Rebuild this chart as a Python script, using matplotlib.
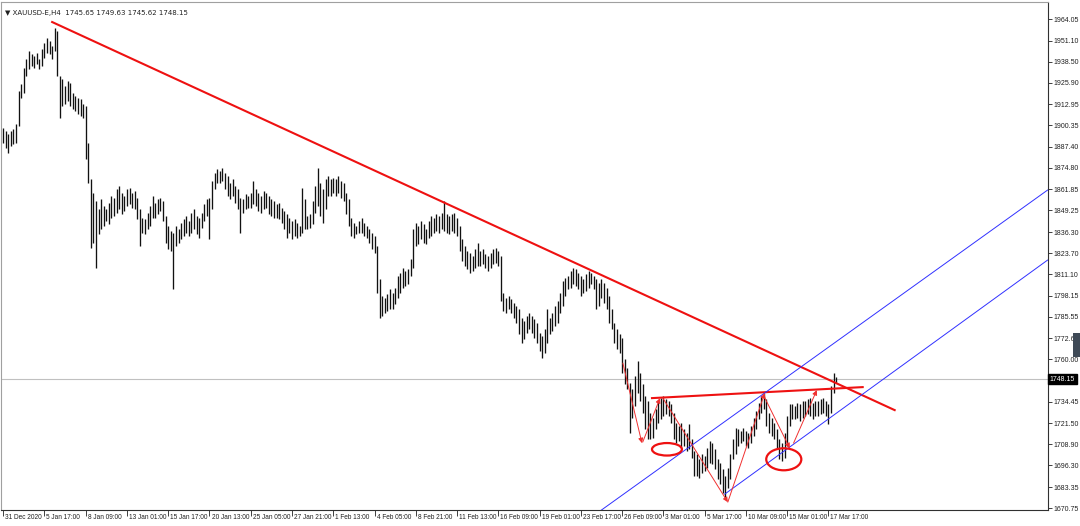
import matplotlib
matplotlib.use("Agg")
import matplotlib.pyplot as plt
from matplotlib.patches import Ellipse, Rectangle

# H4 bars, XAUUSD 31 Dec 2020 .. 18 Mar 2021 (high / low per bar)
highs = [
    1899, 1897, 1895, 1897, 1898, 1901, 1921, 1925, 1935, 1940, 1945, 1943, 1942, 1944, 1940, 1946,
    1950, 1953, 1951, 1948, 1959, 1957, 1930, 1928, 1924, 1927, 1926, 1920, 1918, 1917, 1916, 1913,
    1912, 1890, 1868, 1860, 1855, 1850, 1856, 1852, 1850, 1854, 1858, 1857, 1862, 1864, 1860, 1858,
    1862, 1863, 1860, 1861, 1857, 1850, 1845, 1844, 1848, 1852, 1858, 1854, 1856, 1857, 1855, 1846,
    1840, 1837, 1836, 1840, 1838, 1842, 1844, 1846, 1843, 1848, 1850, 1846, 1845, 1848, 1853, 1856,
    1857, 1867, 1872, 1874, 1873, 1875, 1872, 1870, 1866, 1868, 1864, 1862, 1857, 1856, 1859, 1858,
    1860, 1867, 1862, 1860, 1858, 1861, 1860, 1858, 1856, 1855, 1853, 1854, 1851, 1849, 1847, 1845,
    1843, 1844, 1842, 1840, 1863, 1856, 1846, 1847, 1855, 1864, 1875, 1866, 1862, 1868, 1870, 1868,
    1869, 1868, 1870, 1867, 1866, 1860, 1856, 1845, 1842, 1840, 1843, 1845, 1842, 1840, 1838, 1836,
    1834, 1828, 1808, 1798, 1797, 1799, 1802, 1800, 1803, 1810, 1812, 1815, 1813, 1814, 1820, 1838,
    1842, 1840, 1843, 1841, 1838, 1843, 1846, 1845, 1847, 1846, 1848, 1855, 1847, 1846, 1847, 1848,
    1845, 1840, 1832, 1828, 1825, 1824, 1822, 1826, 1830, 1825, 1826, 1823, 1822, 1824, 1826, 1827,
    1825, 1822, 1800, 1797, 1798, 1796, 1794, 1792, 1790, 1785, 1783, 1786, 1788, 1786, 1784, 1782,
    1776, 1774, 1778, 1790, 1785, 1788, 1792, 1795, 1800, 1807, 1809, 1810, 1813, 1815, 1814, 1812,
    1810, 1808, 1811, 1813, 1812, 1810, 1808, 1806, 1808, 1806, 1803, 1798, 1790, 1782, 1778, 1775,
    1773, 1760, 1755, 1746, 1742, 1750, 1759, 1752, 1745, 1738, 1735, 1728, 1725, 1730, 1735, 1737,
    1738, 1736, 1735, 1733, 1728, 1722, 1720, 1722, 1718, 1716, 1721, 1712, 1705, 1703, 1700, 1703,
    1702, 1707, 1711, 1710, 1706, 1700, 1698, 1694, 1690, 1695, 1703, 1712, 1719, 1718, 1717, 1719,
    1717, 1716, 1720, 1725, 1729, 1734, 1738, 1740, 1736, 1728, 1725, 1722, 1718, 1712, 1710, 1716,
    1726, 1733, 1733, 1732, 1734, 1733, 1735, 1735, 1736, 1737, 1734, 1735, 1735, 1736, 1737, 1735,
    1733, 1744, 1752, 1749.63,
]
lows = [
    1890, 1887, 1884, 1888, 1889, 1890, 1900, 1917, 1920, 1930, 1934, 1936, 1935, 1937, 1934, 1936,
    1941, 1944, 1943, 1940, 1945, 1930, 1905, 1912, 1913, 1915, 1912, 1910, 1909, 1907, 1906, 1905,
    1880, 1866, 1827, 1830, 1815, 1835, 1838, 1840, 1843, 1841, 1845, 1846, 1848, 1850, 1847, 1849,
    1852, 1853, 1851, 1850, 1844, 1828, 1836, 1835, 1838, 1840, 1845, 1845, 1847, 1849, 1843, 1830,
    1826, 1825, 1802, 1828, 1830, 1832, 1834, 1836, 1834, 1836, 1838, 1835, 1833, 1839, 1843, 1846,
    1832, 1850, 1862, 1866, 1866, 1867, 1862, 1858, 1856, 1858, 1854, 1850, 1836, 1848, 1850, 1851,
    1851, 1853, 1852, 1849, 1848, 1850, 1851, 1847, 1846, 1845, 1845, 1844, 1842, 1838, 1833, 1836,
    1832, 1834, 1833, 1834, 1836, 1838, 1838, 1839, 1841, 1848, 1852, 1846, 1842, 1850, 1858, 1858,
    1860, 1858, 1860, 1857, 1855, 1847, 1840, 1834, 1833, 1835, 1836, 1836, 1834, 1833, 1830, 1826,
    1824, 1800, 1785, 1786, 1788, 1789, 1790, 1790, 1793, 1797, 1800, 1803, 1804, 1805, 1810, 1815,
    1828, 1829, 1832, 1830, 1829, 1833, 1834, 1836, 1837, 1836, 1838, 1837, 1836, 1835, 1837, 1836,
    1834, 1825, 1819, 1816, 1814, 1812, 1813, 1815, 1816, 1816, 1817, 1815, 1813, 1815, 1817, 1818,
    1816, 1795, 1789, 1788, 1790, 1788, 1785, 1782, 1775, 1770, 1772, 1776, 1778, 1776, 1773, 1770,
    1765, 1761, 1764, 1770, 1775, 1777, 1780, 1782, 1788, 1792, 1798, 1802, 1803, 1805, 1804, 1802,
    1798, 1800, 1801, 1803, 1805, 1802, 1790, 1792, 1797, 1794, 1790, 1782, 1778, 1770, 1766, 1764,
    1752, 1745, 1742, 1716, 1725, 1732, 1740, 1735, 1728, 1718, 1712, 1712, 1713, 1718, 1722, 1724,
    1726, 1727, 1726, 1722, 1712, 1710, 1711, 1707, 1708, 1705, 1706, 1701, 1690, 1690, 1689, 1692,
    1693, 1695, 1698, 1697, 1694, 1688, 1685, 1680, 1677, 1683, 1688, 1700, 1703, 1708, 1710, 1711,
    1708, 1707, 1710, 1714, 1718, 1724, 1728, 1730, 1720, 1716, 1714, 1712, 1706, 1700, 1699, 1701,
    1708, 1720, 1724, 1724, 1725, 1723, 1725, 1726, 1727, 1726, 1724, 1726, 1726, 1727, 1728, 1726,
    1721, 1728, 1740, 1745.62,
]
assert len(highs) == len(lows)

last_price = 1748.15
title_text = "\u25bc XAUUSD-E,H4  1745.65 1749.63 1745.62 1748.15"

price_ticks = [1964.05, 1951.10, 1938.50, 1925.90, 1912.95, 1900.35, 1887.40, 1874.80,
               1861.85, 1849.25, 1836.30, 1823.70, 1811.10, 1798.15, 1785.55, 1772.60,
               1760.00, 1734.45, 1721.50, 1708.90, 1696.30, 1683.35, 1670.75]

time_labels = ["31 Dec 2020", "5 Jan 17:00", "8 Jan 09:00", "13 Jan 01:00", "15 Jan 17:00",
               "20 Jan 13:00", "25 Jan 05:00", "27 Jan 21:00", "1 Feb 13:00", "4 Feb 05:00",
               "8 Feb 21:00", "11 Feb 13:00", "16 Feb 09:00", "19 Feb 01:00", "23 Feb 17:00",
               "26 Feb 09:00", "3 Mar 01:00", "5 Mar 17:00", "10 Mar 09:00", "15 Mar 01:00",
               "17 Mar 17:00"]
label_bars = [16 * k for k in range(len(time_labels))]

# drawn objects (bar index, price)
trend_line = [(19.0, 1962.3), (345.7, 1729.5)]
neck_line = [(251.6, 1736.7), (333.3, 1743.3)]
channel_upper = [(231.4, 1668.9), (405.0, 1861.5)]
channel_lower = [(279.8, 1679.1), (405.0, 1819.5)]
zigzag = [
    ((240.3, 1757.7), (247.7, 1709.7)),
    ((248.0, 1710.3), (254.7, 1736.7)),
    ((255.8, 1736.7), (281.0, 1674.3)),
    ((281.0, 1674.3), (295.3, 1739.7)),
    ((295.3, 1737.0), (305.0, 1706.7)),
    ((306.5, 1709.7), (315.5, 1741.5)),
]
ellipses = [((257.4, 1706.0), 11.6, 7.5), ((302.7, 1700.0), 13.6, 13.2)]

fig = plt.figure(figsize=(10.8, 5.26), dpi=100)
ax = fig.add_axes([0.001, 0.030, 0.969, 0.966])
ax.set_xlim(-0.8, 405)
ax.set_ylim(1669.45, 1974.25)

# price bars
ax.vlines(range(len(highs)), lows, highs, color="#111111", lw=0.95, zorder=3)

# current price line
ax.axhline(last_price, color="#c0c0c0", lw=0.8, zorder=1)

# trend lines
ax.plot(*zip(*trend_line), color="#ee1111", lw=1.5, zorder=4)
ax.plot(*zip(*neck_line), color="#ee1111", lw=1.5, zorder=4)
ax.plot(*zip(*channel_upper), color="#3030ff", lw=0.7, zorder=4)
ax.plot(*zip(*channel_lower), color="#3030ff", lw=0.7, zorder=4)

for start, end in zigzag:
    ax.annotate("", xy=end, xytext=start,
                arrowprops=dict(arrowstyle="-|>", color="#f03030", lw=0.7,
                                mutation_scale=7, shrinkA=0, shrinkB=0),
                zorder=5)

for center, w, h in ellipses:
    ax.add_patch(Ellipse(center, w, h, fill=False, edgecolor="#ee1111", lw=1.6, zorder=5))

# axes styling
for side in ["left", "top"]:
    ax.spines[side].set_color("#a0a0a0")
    ax.spines[side].set_linewidth(0.8)
for side in ["right", "bottom"]:
    ax.spines[side].set_color("#303030")
    ax.spines[side].set_linewidth(0.8)

ax.yaxis.tick_right()
ax.set_yticks(price_ticks)
ax.set_yticklabels([f"{p:.2f}" for p in price_ticks])
ax.tick_params(axis="y", direction="out", length=3, width=0.6, pad=1.5,
               labelsize=5.0, colors="#202020")
ax.set_xticks(label_bars)
ax.set_xticklabels([])
ax.tick_params(axis="x", direction="out", length=4, width=0.6, colors="#202020")
for tick in ax.get_yticklabels():
    tick.set_family("Liberation Sans")

for pos, lab in zip(label_bars, time_labels):
    ax.annotate(lab, xy=(pos, 0), xycoords=("data", "axes fraction"),
                xytext=(1.5, -2.5), textcoords="offset points",
                ha="left", va="top", fontsize=4.7, family="Liberation Sans",
                color="#202020", annotation_clip=False)

# current price tag
ax.annotate(f"{last_price:.2f}", xy=(1.0, last_price), xycoords=("axes fraction", "data"),
            xytext=(1.5, 0), textcoords="offset points", ha="left", va="center",
            fontsize=5.0, family="Liberation Sans", color="white",
            bbox=dict(boxstyle="square,pad=0.25", fc="black", ec="black"),
            annotation_clip=False)

ax.text(0.004, 0.985, title_text, transform=ax.transAxes, ha="left", va="top",
        fontsize=5.0, family=["DejaVu Sans"], color="#202020")

# small side tab at the right edge
fig.patches.append(Rectangle((1073 / 1080, 1 - 357 / 526), 7 / 1080, 24 / 526,
                             transform=fig.transFigure, fc="#3f4a57", ec="none"))

fig.savefig("out.png", dpi=100)
